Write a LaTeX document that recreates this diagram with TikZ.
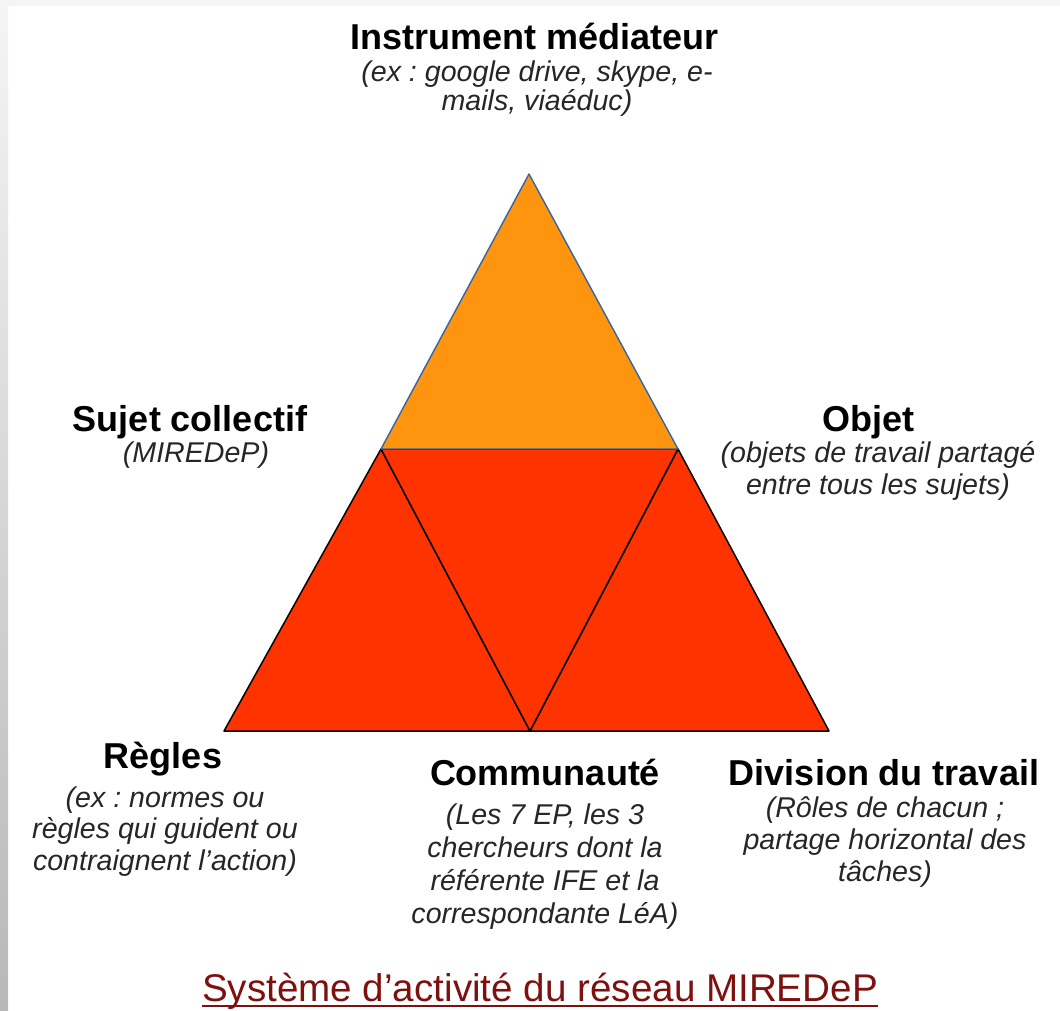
\documentclass[tikz,border=0pt]{standalone}
\usepackage{fontspec}
\setmainfont{Liberation Sans}
\frenchspacing
\definecolor{triorange}{HTML}{FF950E}
\definecolor{trired}{HTML}{FF3300}
\definecolor{triblue}{HTML}{3465A4}
\definecolor{titlered}{HTML}{7F1010}
\begin{document}
\begin{tikzpicture}[x=1pt,y=-1pt,
  head/.style={inner sep=0pt, anchor=base, font=\fontsize{36}{40}\selectfont\bfseries},
  detail/.style={inner sep=0pt, anchor=base, align=center, text=black!85, font=\fontsize{28.6}{#1}\selectfont\itshape\frenchspacing},
  detail/.default=32,
  redtri/.style={fill=trired, draw=black, line width=1.5pt, line join=round},
  orangetri/.style={fill=triorange, draw=triblue, line width=1.4pt, line join=round}]
\useasboundingbox (0,0) rectangle (1060,1010);
\fill[white] (0,0) rectangle (1060,1010);
\shade[top color=black!4, bottom color=black!28] (0,0) rectangle (8,1010);
\fill[black!4] (8,0) rectangle (1060,6);
% triangle corners
\coordinate (apex) at (529,174);
\coordinate (ml) at (381,449);
\coordinate (mr) at (678,449);
\coordinate (bl) at (224,731);
\coordinate (bm) at (530,731);
\coordinate (br) at (829,731);
\filldraw[redtri] (ml) -- (bl) -- (bm) -- cycle;
\filldraw[redtri] (mr) -- (bm) -- (br) -- cycle;
\filldraw[redtri] (ml) -- (mr) -- (bm) -- cycle;
\filldraw[orangetri] (apex) -- (ml) -- (mr) -- cycle;
% labels (detail nodes are anchored at the baseline of their last line)
\node[head] (instr) at (535,49) {Instrument médiateur};
\node[detail=29] (instrd) at (537,110) {(ex : google drive, skype, e-\\mails, viaéduc)};
\node[head] (sujet) at (190,431) {Sujet collectif};
\node[detail] (sujetd) at (196,462) {(MIREDeP)};
\node[head] (objet) at (868,431) {Objet};
\node[detail] (objetd) at (878,494) {(objets de travail partagé\\entre tous les sujets)};
\node[head] (regles) at (163,768) {Règles};
\node[detail=31.5] (reglesd) at (165,870) {(ex : normes ou\\règles qui guident ou\\contraignent l'action)};
\node[head] (comm) at (545,785) {Communauté};
\node[detail=32.7] (commd) at (545,923) {(Les 7 EP, les 3\\chercheurs dont la\\référente IFE et la\\correspondante LéA)};
\node[head] (divis) at (884,785) {Division du travail};
\node[detail] (divisd) at (885,881) {(Rôles de chacun ;\\partage horizontal des\\tâches)};
\node[inner sep=0pt, anchor=base, text=titlered, font=\fontsize{38.6}{42}\selectfont] (titre) at (540,1001) {Système d’activité du réseau MIREDeP};
\draw[titlered, line width=2pt] ([yshift=-5pt]titre.base west) -- ([yshift=-5pt]titre.base east);
\end{tikzpicture}
\end{document}
